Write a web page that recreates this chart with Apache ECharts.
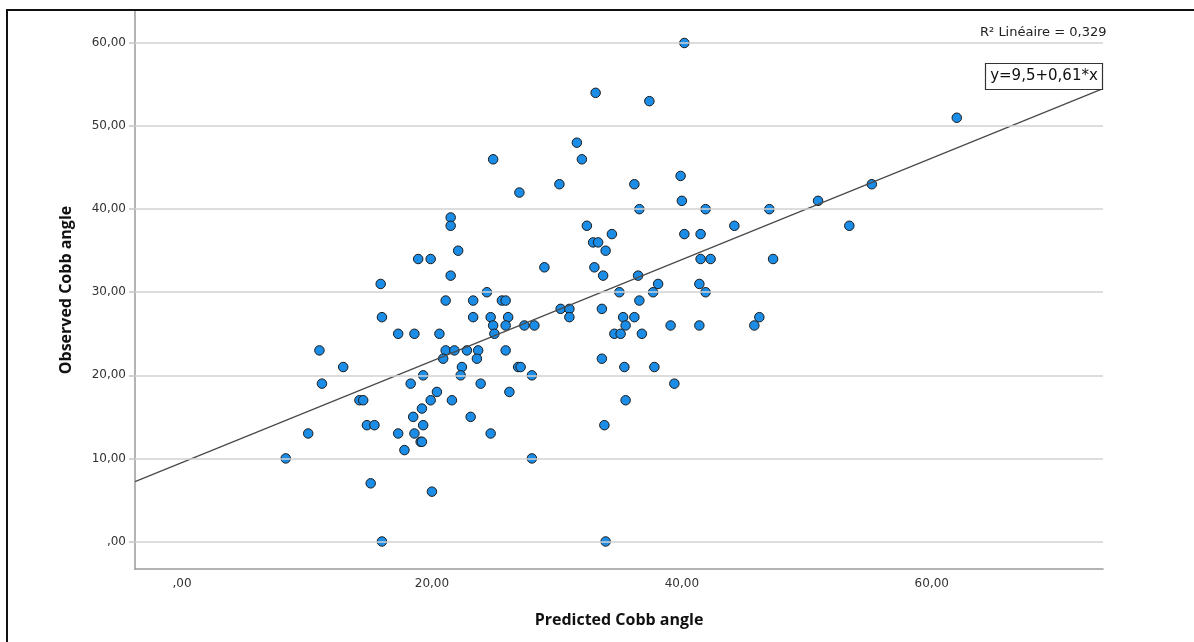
<!DOCTYPE html>
<html>
<head>
<meta charset="utf-8">
<script src="https://cdn.jsdelivr.net/npm/echarts@6/dist/echarts.min.js"></script>
<style>
html, body { margin: 0; padding: 0; background: #fff; }
#chart { width: 1194px; height: 642px; }
</style>
</head>
<body>
<div id="chart"></div>
<script>
// predicted vs observed Cobb angle
var predicted = [
  21.5, 21.5, 22.1, 18.9, 19.9, 21.5, 15.9, 24.4, 21.1, 23.3,
  16.0, 23.3, 24.7, 24.9, 25.0, 17.3, 18.6, 20.6, 11.0, 21.1,
  21.8, 22.8, 23.7, 20.9, 23.6, 12.9, 22.4, 19.3, 22.3,
  11.2, 18.3, 23.9, 20.4, 14.2, 14.5, 19.9, 21.6, 19.2, 18.5,
  23.1, 14.8, 15.4, 19.3, 10.1, 17.3, 18.6, 24.7, 19.1, 19.2,
  17.8, 8.3, 15.1, 20.0, 16.0,
  24.9,
  25.6, 25.9, 26.1, 25.9, 27.4, 28.2, 25.9, 26.9, 27.1, 28.0, 26.2, 28.0,
  33.9, 41.5, 42.3, 47.3, 29.0, 33.0, 33.7, 36.5, 38.1, 41.4,
  35.0, 37.7, 41.9, 36.6, 30.3, 31.0, 33.6, 31.0, 35.3, 36.2,
  46.2, 35.5, 39.1, 41.4, 45.8, 34.6, 35.1, 36.8, 33.6, 35.4,
  37.8, 39.4, 35.5, 33.8, 33.9,
  40.2, 33.1, 37.4, 31.6, 32.0, 39.9, 27.0, 30.2, 36.2, 40.0,
  36.6, 41.9, 47.0, 32.4, 44.2, 34.4, 40.2, 41.5, 32.9, 33.3,
  62.0, 55.2, 50.9, 53.4
];
var observed = [
  39, 38, 35, 34, 34, 32, 31, 30, 29, 29,
  27, 27, 27, 26, 25, 25, 25, 25, 23, 23,
  23, 23, 23, 22, 22, 21, 21, 20, 20,
  19, 19, 19, 18, 17, 17, 17, 17, 16, 15,
  15, 14, 14, 14, 13, 13, 13, 13, 12, 12,
  11, 10, 7, 6, 0,
  46,
  29, 29, 27, 26, 26, 26, 23, 21, 21, 20, 18, 10,
  35, 34, 34, 34, 33, 33, 32, 32, 31, 31,
  30, 30, 30, 29, 28, 28, 28, 27, 27, 27,
  27, 26, 26, 26, 26, 25, 25, 25, 22, 21,
  21, 19, 17, 14, 0,
  60, 54, 53, 48, 46, 44, 42, 43, 43, 41,
  40, 40, 40, 38, 38, 37, 37, 37, 36, 36,
  51, 43, 41, 38
];
// ends of the linear fit line as drawn
var fitLine = [[-3.76, 7.2], [73.7, 54.5]];
var xTicks = [0, 20, 40, 60];
var yTicks = [0, 10, 20, 30, 40, 50, 60];

function fmt(v) {
  return v === 0 ? ',00' : v.toFixed(2).replace('.', ',');
}

var points = [];
for (var i = 0; i < predicted.length; i++) {
  points.push([predicted[i], observed[i]]);
}
var gridLines = [];
for (var j = 0; j < yTicks.length; j++) {
  gridLines.push({ yAxis: yTicks[j] });
}

var myChart = echarts.init(document.getElementById('chart'));
var option = {
  animation: false,
  backgroundColor: '#fff',
  grid: { left: 135, right: 91, top: 11, bottom: 73 },
  xAxis: {
    type: 'value',
    min: -3.76,
    max: 73.7,
    name: 'Predicted Cobb angle',
    nameLocation: 'middle',
    nameGap: 43,
    nameTextStyle: { fontFamily: 'Open Sans', fontWeight: 'bold', fontSize: 16, color: '#111' },
    axisLine: { show: true, onZero: false, lineStyle: { color: '#9a9a9a', width: 1.5 } },
    axisTick: { show: false },
    splitLine: { show: false },
    axisLabel: {
      customValues: xTicks,
      formatter: fmt,
      color: '#333',
      fontFamily: 'DejaVu Sans',
      fontSize: 12,
      margin: 9
    }
  },
  yAxis: {
    type: 'value',
    min: -3.31,
    max: 63.85,
    name: 'Observed Cobb angle',
    nameLocation: 'middle',
    nameGap: 61,
    nameTextStyle: { fontFamily: 'Open Sans', fontWeight: 'bold', fontSize: 16, color: '#111' },
    axisLine: { show: true, onZero: false, lineStyle: { color: '#9a9a9a', width: 1.5 } },
    axisTick: { show: true, customValues: yTicks, length: 6, lineStyle: { color: '#c4c4c4', width: 1.5 } },
    splitLine: { show: false },
    axisLabel: {
      customValues: yTicks,
      formatter: fmt,
      color: '#333',
      fontFamily: 'DejaVu Sans',
      fontSize: 12,
      margin: 9
    }
  },
  series: [
    {
      name: 'grid',
      type: 'line',
      data: [],
      z: 1,
      markLine: {
        silent: true,
        symbol: ['none', 'none'],
        label: { show: false },
        lineStyle: { color: '#d2d2d2', width: 1.5, type: 'solid' },
        data: gridLines
      }
    },
    {
      name: 'Observed',
      type: 'scatter',
      data: points,
      z: 3,
      symbol: 'circle',
      symbolSize: 9.5,
      itemStyle: { color: '#1c8de6', borderColor: '#1a1a1a', borderWidth: 1, opacity: 1 }
    },
    {
      name: 'Linéaire',
      type: 'line',
      data: fitLine,
      z: 4,
      showSymbol: false,
      silent: true,
      lineStyle: { color: '#4a4a4a', width: 1.3 }
    }
  ],
  graphic: [
    {
      type: 'polyline',
      shape: { points: [[7, 642], [7, 10], [1194, 10]] },
      style: { stroke: '#111', lineWidth: 2, fill: null },
      z: 10
    },
    {
      type: 'text',
      x: 980,
      y: 33,
      style: {
        text: 'R² Linéaire = 0,329',
        font: '13px "DejaVu Sans"',
        fill: '#222',
        textVerticalAlign: 'middle',
        verticalAlign: 'middle'
      },
      z: 10
    },
    {
      type: 'rect',
      shape: { x: 985.5, y: 63.5, width: 117, height: 26 },
      style: { fill: '#fff', stroke: '#333', lineWidth: 1.2 },
      z: 10
    },
    {
      type: 'text',
      x: 1044,
      y: 76.5,
      style: {
        text: 'y=9,5+0,61*x',
        font: '15px "DejaVu Sans"',
        fill: '#111',
        textAlign: 'center',
        align: 'center',
        textVerticalAlign: 'middle',
        verticalAlign: 'middle'
      },
      z: 11
    }
  ]
};
myChart.setOption(option);
</script>
</body>
</html>
